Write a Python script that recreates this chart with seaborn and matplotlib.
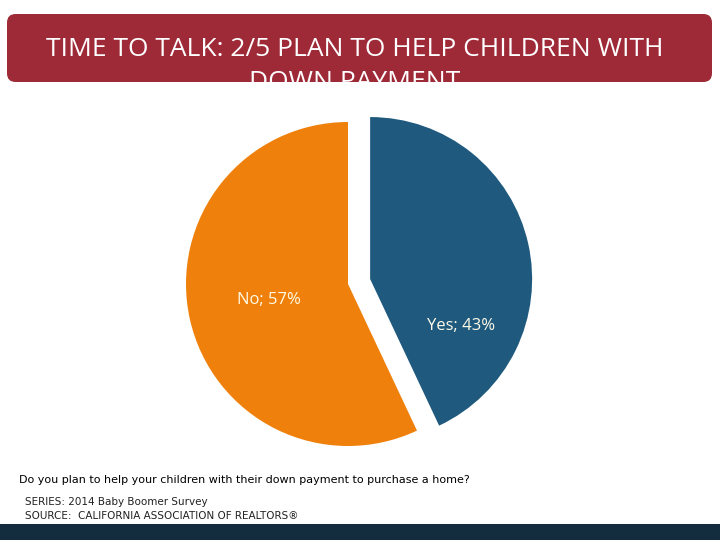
import matplotlib.pyplot as plt
import seaborn as sns
from matplotlib.patches import FancyBboxPatch, Rectangle

labels = ['Yes', 'No']
shares = [43, 57]
colors = ['#1f5a7e', '#ef800b']
explode = [0.14, 0]

title = 'TIME TO TALK: 2/5 PLAN TO HELP CHILDREN WITH\nDOWN PAYMENT'
question = 'Do you plan to help your children with their down payment to purchase a home?'
series_note = 'SERIES: 2014 Baby Boomer Survey'
source_note = 'SOURCE:  CALIFORNIA ASSOCIATION OF REALTORS®'

sns.set_theme(style='white')
plt.rcParams['font.family'] = ['Open Sans', 'DejaVu Sans']

W, H = 720, 540
fig = plt.figure(figsize=(7.2, 5.4), dpi=100)
fig.patch.set_facecolor('white')

# pie axes: radius 1 -> 162 px, centre at (348, 284) from top
ax = fig.add_axes([105 / W, 13 / H, 486 / W, 486 / H])
wedges, texts = ax.pie(shares, colors=colors, explode=explode, startangle=90,
                       counterclock=False, radius=1.0,
                       wedgeprops=dict(linewidth=0))
ax.set_xlim(-1.5, 1.5)
ax.set_ylim(-1.5, 1.5)
ax.set_aspect('equal')
ax.axis('off')

# data labels
ax.text(0.7, -0.26, f'{labels[0]}; {shares[0]}%', color='#fffbe8', fontsize=12,
        ha='center', va='center')
ax.text(-0.49, -0.10, f'{labels[1]}; {shares[1]}%', color='#fffbe8', fontsize=12,
        ha='center', va='center')

# header banner
banner = FancyBboxPatch((7 / W, (H - 82) / H), 705 / W, 68 / H,
                        boxstyle='round,pad=0,rounding_size=0.012',
                        transform=fig.transFigure, facecolor='#9e2a38',
                        edgecolor='none', mutation_aspect=W / H)
fig.patches.append(banner)
t = fig.text(355 / W, (H - 48) / H, title, color='white', fontsize=19,
             ha='center', va='center', linespacing=1.45)
t.set_position((355 / W, (H - 66) / H))
t.set_va('center')
t.set_clip_path(banner)

# bottom bar
fig.patches.append(Rectangle((0, 0), 1, 16 / H, transform=fig.transFigure,
                             facecolor='#132d3e', edgecolor='none'))

# footnotes
fig.text(19 / W, (H - 480) / H, question, fontsize=8, color='black',
         ha='left', va='center', family=['Liberation Sans Narrow', 'DejaVu Sans'])
fig.text(25 / W, (H - 502) / H, series_note, fontsize=7.5, color='#222222',
         ha='left', va='center', family=['Liberation Sans Narrow', 'DejaVu Sans'])
fig.text(25 / W, (H - 516) / H, source_note, fontsize=7.5, color='#222222',
         ha='left', va='center', family=['Liberation Sans Narrow', 'DejaVu Sans'])

fig.savefig('out.png', dpi=100)
